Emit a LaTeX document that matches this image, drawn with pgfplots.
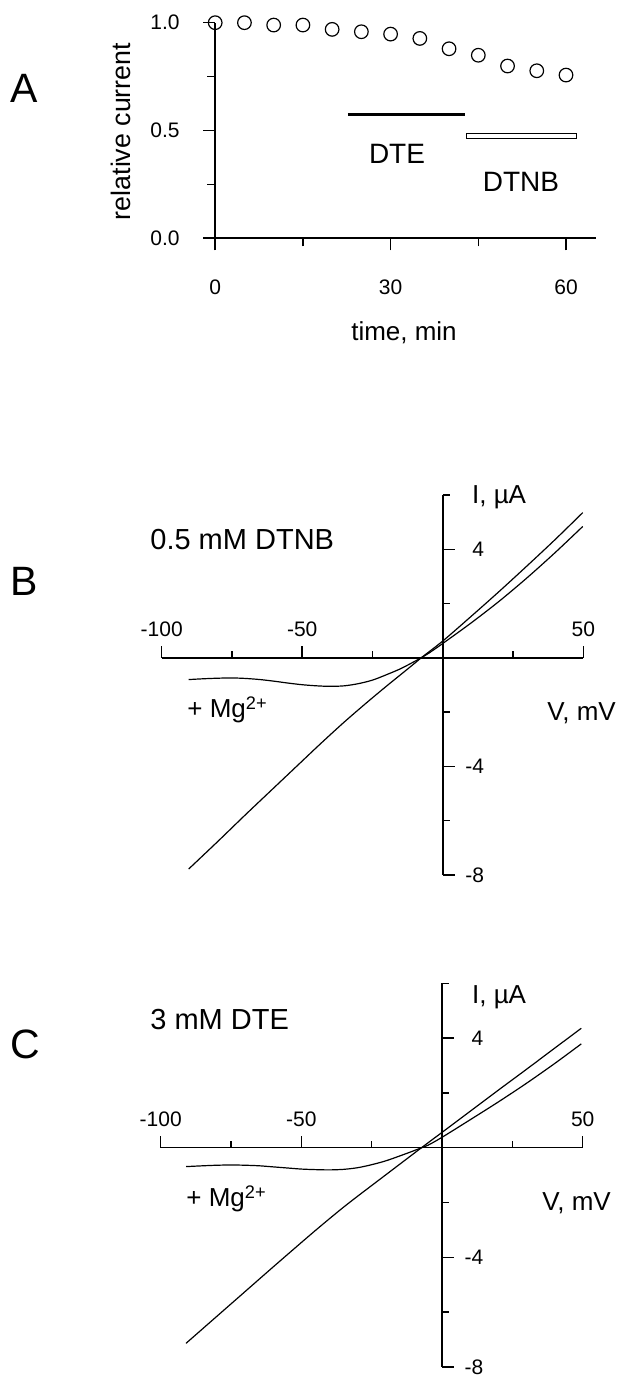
\documentclass[border=0pt]{standalone}
\usepackage{fontspec}
\setmainfont{Liberation Sans}
\usepackage{pgfplots}
\pgfplotsset{compat=1.18}
\begin{document}
\begin{tikzpicture}
\useasboundingbox (0,0) rectangle (313pt,688pt);

% ---------------- Panel A ----------------
\begin{axis}[
  at={(107.6pt,568.85pt)}, anchor=south west,
  scale only axis, width=190.4pt, height=107.8pt,
  xmin=0, xmax=65.13, ymin=0, ymax=1,
  axis lines=left, axis line style={-, line width=0.8pt},
  clip=false,
  tick align=outside,
  xtick={0,30,60}, xticklabels={0,30,60}, minor xtick={15,45},
  ytick={0,0.5,1}, yticklabels={0.0,0.5,1.0}, minor ytick={0.25,0.75},
  major tick length=6pt, minor tick length=4pt,
  tick style={black, line width=0.8pt},
  tick label style={font=\fontsize{10.5}{12}\selectfont, inner sep=0pt},
  xticklabel style={anchor=base, yshift=-22.35pt},
  yticklabel style={anchor=east, xshift=-11.6pt},
]
\addplot[only marks, mark=o, mark size=3.4pt, mark options={line width=0.6pt, fill=white}]
  coordinates {(0,1.0)(5,1.0)(10,0.989)(15,0.989)(20,0.969)(25,0.958)(30,0.947)
               (35,0.927)(40,0.879)(45,0.849)(50,0.799)(55,0.777)(60,0.757)};
\addplot[line width=1.5pt] coordinates {(22.7,0.576)(42.7,0.576)};
\addplot[line width=0.5pt, draw=black, fill=white]
  coordinates {(42.9,0.465)(61.8,0.465)(61.8,0.488)(42.9,0.488)(42.9,0.465)};
\end{axis}

% ---------------- Panel B ----------------
\begin{axis}[
  at={(80.85pt,250.5pt)}, anchor=south west,
  scale only axis, width=210.8pt, height=190pt,
  xmin=-100, xmax=50, ymin=-8, ymax=6,
  axis lines=middle, axis line style={-, line width=0.75pt},
  clip=false,
  tick align=inside,
  xtick={-100,-50,50}, xticklabels={-100,-50,50}, minor xtick={-75,-25,25},
  ytick={-8,-4,4}, yticklabels={-8,-4,4}, minor ytick={-6,-2,2,6},
  major tick length=6pt, minor tick length=3.5pt,
  tick style={black, line width=0.75pt},
  tick label style={font=\fontsize{10.5}{12}\selectfont, inner sep=0pt},
  xticklabel style={anchor=base, yshift=10.8pt},
  yticklabel style={anchor=east, xshift=20.8pt},
]
% without Mg2+
\addplot[line width=0.6pt, smooth] coordinates {
 (-90.4,-7.78)(-80,-6.76)(-70,-5.76)(-60,-4.78)(-50,-3.80)(-45,-3.31)(-40,-2.83)
 (-35,-2.36)(-30,-1.91)(-25,-1.47)(-20,-1.04)(-15,-0.62)(-10,-0.2)(-7.7,0)(0,0.62)
 (10,1.52)(20,2.44)(30,3.39)(40,4.36)(49.8,5.35)};
% with Mg2+
\addplot[line width=0.6pt, smooth] coordinates {
 (-90.4,-0.80)(-85,-0.77)(-80,-0.75)(-75,-0.74)(-70,-0.76)(-65,-0.80)(-60,-0.86)
 (-55,-0.93)(-50,-0.99)(-45,-1.03)(-40,-1.05)(-35,-1.03)(-30,-0.95)(-25,-0.82)
 (-20,-0.62)(-15,-0.40)(-10,-0.13)(-7.7,0)(-5,0.17)(0,0.53)(10,1.28)(20,2.08)
 (30,2.95)(40,3.88)(49.8,4.84)};
\end{axis}

% ---------------- Panel C ----------------
\begin{axis}[
  at={(80.35pt,4.55pt)}, anchor=south west,
  scale only axis, width=211pt, height=191.8pt,
  xmin=-100, xmax=50, ymin=-8, ymax=6,
  axis lines=middle, axis line style={-, line width=0.75pt},
  clip=false,
  tick align=inside,
  xtick={-100,-50,50}, xticklabels={-100,-50,50}, minor xtick={-75,-25,25},
  ytick={-8,-4,4}, yticklabels={-8,-4,4}, minor ytick={-6,-2,2,6},
  major tick length=6pt, minor tick length=3.5pt,
  tick style={black, line width=0.75pt},
  tick label style={font=\fontsize{10.5}{12}\selectfont, inner sep=0pt},
  xticklabel style={anchor=base, yshift=10.8pt},
  yticklabel style={anchor=east, xshift=20.8pt},
]
% without Mg2+
\addplot[line width=0.6pt, smooth] coordinates {
 (-91,-7.14)(-80,-6.15)(-70,-5.25)(-60,-4.35)(-50,-3.46)(-45,-3.02)(-40,-2.59)
 (-35,-2.17)(-30,-1.77)(-25,-1.38)(-20,-0.99)(-15,-0.60)(-10,-0.21)(-7.3,0)(0,0.56)
 (10,1.33)(20,2.10)(30,2.86)(40,3.63)(49.5,4.36)};
% with Mg2+
\addplot[line width=0.6pt, smooth] coordinates {
 (-91,-0.69)(-85,-0.66)(-80,-0.64)(-75,-0.63)(-70,-0.64)(-65,-0.66)(-60,-0.70)
 (-55,-0.74)(-50,-0.78)(-45,-0.80)(-40,-0.81)(-35,-0.79)(-30,-0.73)(-25,-0.62)
 (-20,-0.48)(-15,-0.30)(-10,-0.11)(-7.3,0)(-5,0.09)(0,0.38)(10,1.02)(20,1.67)
 (30,2.35)(40,3.07)(49.5,3.79)};
\end{axis}

% ---------------- Text ----------------
\begin{scope}[every node/.style={inner sep=0pt}]
\node[font=\fontsize{20.5}{24}\selectfont, anchor=base west] at (5pt,636.5pt) {A};
\node[font=\fontsize{20.5}{24}\selectfont, anchor=base west] at (5pt,390pt) {B};
\node[font=\fontsize{20.5}{24}\selectfont, anchor=base west] at (5pt,158.5pt) {C};

\node[font=\fontsize{13.4}{15}\selectfont, anchor=base, rotate=90] at (65pt,622.25pt) {relative current};
\node[font=\fontsize{13}{15}\selectfont, anchor=base] at (202pt,517.65pt) {time, min};
\node[font=\fontsize{14}{16}\selectfont, anchor=base] at (198.5pt,606.35pt) {DTE};
\node[font=\fontsize{14}{16}\selectfont, anchor=base] at (260.5pt,592pt) {DTNB};

\node[font=\fontsize{14.5}{17}\selectfont, anchor=base west] at (75pt,413pt) {0.5 mM DTNB};
\node[font=\fontsize{13}{15}\selectfont, anchor=base west] at (235.85pt,436.25pt) {I, µA};
\node[font=\fontsize{13}{15}\selectfont, anchor=base west] at (93.5pt,329pt) {+ Mg\textsuperscript{2+}};
\node[font=\fontsize{13}{15}\selectfont, anchor=base west] at (273.5pt,327.5pt) {V, mV};

\node[font=\fontsize{14.5}{17}\selectfont, anchor=base west] at (75pt,173pt) {3 mM DTE};
\node[font=\fontsize{13}{15}\selectfont, anchor=base west] at (235.85pt,186pt) {I, µA};
\node[font=\fontsize{13}{15}\selectfont, anchor=base west] at (93pt,84.5pt) {+ Mg\textsuperscript{2+}};
\node[font=\fontsize{13}{15}\selectfont, anchor=base west] at (271pt,82.5pt) {V, mV};
\end{scope}
\end{tikzpicture}
\end{document}
